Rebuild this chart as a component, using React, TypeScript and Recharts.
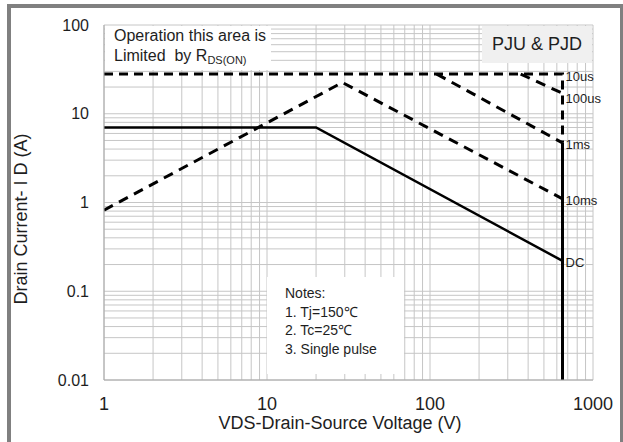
import React from "react";
import {
  CartesianGrid,
  Line,
  LineChart,
  ReferenceDot,
  XAxis,
  YAxis,
} from "recharts";

// Safe operating area, VDS (V) vs ID (A)
const dcV = [1, 20, 650];
const dcI = [7, 7, 0.22];
const dcVertV = [650, 650];
const dcVertI = [4.7, 0.01];
const ms10V = [1, 29, 650];
const ms10I = [0.82, 22.5, 1.1];
const ms1V = [110, 650];
const ms1I = [28, 4.7];
const us100V = [360, 650];
const us100I = [28, 17];
const us10V = [1, 650, 650];
const us10I = [28, 28, 4.7];

const curveLabels = ["10us", "100us", "1ms", "10ms", "DC"];
const labelI = [28, 17, 4.7, 1.1, 0.22];

const xTicks = [
  1, 2, 3, 4, 5, 6, 7, 8, 9, 10, 20, 30, 40, 50, 60, 70, 80, 90, 100, 200, 300,
  400, 500, 600, 700, 800, 900, 1000,
];
const yTicks = [
  0.01, 0.02, 0.03, 0.04, 0.05, 0.06, 0.07, 0.08, 0.09, 0.1, 0.2, 0.3, 0.4, 0.5,
  0.6, 0.7, 0.8, 0.9, 1, 2, 3, 4, 5, 6, 7, 8, 9, 10, 20, 30, 40, 50, 60, 70, 80,
  90, 100,
];
const xMajor = [1, 10, 100, 1000];
const yMajor = [0.01, 0.1, 1, 10, 100];

const zip = (vs: number[], is: number[]) => vs.map((v, k) => ({ v, i: is[k] }));

const FONT = '"Liberation Sans", Arial, sans-serif';
const INK = "#1e1e1e";

export default function App() {
  return (
    <div
      style={{
        position: "absolute",
        left: 0,
        top: 0,
        width: 623,
        height: 442,
        background: "#fff",
        fontFamily: FONT,
        color: INK,
        overflow: "hidden",
      }}
    >
      <LineChart
        width={623}
        height={442}
        margin={{ top: 25, right: 30, bottom: 22, left: 0 }}
      >
        <CartesianGrid stroke="#c6c6c6" strokeWidth={1} />
        <XAxis
          type="number"
          dataKey="v"
          scale="log"
          domain={[1, 1000]}
          ticks={xTicks}
          allowDataOverflow
          height={40}
          tickSize={0}
          tickMargin={17}
          tickLine={false}
          axisLine={{ stroke: "#a8a8a8" }}
          interval={0}
          tick={{ fontSize: 18, fill: INK, fontFamily: FONT }}
          tickFormatter={(t: number) => (xMajor.includes(t) ? String(t) : "")}
        />
        <YAxis
          type="number"
          dataKey="i"
          scale="log"
          domain={[0.01, 100]}
          ticks={yTicks}
          allowDataOverflow
          width={104}
          tickSize={0}
          tickMargin={15}
          tickLine={false}
          axisLine={{ stroke: "#a8a8a8" }}
          interval={0}
          tick={{ fontSize: 16, fill: INK, fontFamily: FONT }}
          tickFormatter={(t: number) => (yMajor.includes(t) ? String(t) : "")}
        />
        <Line data={zip(us10V, us10I)} dataKey="i" stroke="#000" strokeWidth={3}
          strokeDasharray="9 6" dot={false} isAnimationActive={false} />
        <Line data={zip(us100V, us100I)} dataKey="i" stroke="#000" strokeWidth={3}
          strokeDasharray="10 7" dot={false} isAnimationActive={false} />
        <Line data={zip(ms1V, ms1I)} dataKey="i" stroke="#000" strokeWidth={3}
          strokeDasharray="10 7" dot={false} isAnimationActive={false} />
        <Line data={zip(ms10V, ms10I)} dataKey="i" stroke="#000" strokeWidth={3}
          strokeDasharray="10 7" dot={false} isAnimationActive={false} />
        <Line data={zip(dcV, dcI)} dataKey="i" stroke="#000" strokeWidth={2.5}
          dot={false} isAnimationActive={false} />
        <Line data={zip(dcVertV, dcVertI)} dataKey="i" stroke="#000" strokeWidth={3}
          dot={false} isAnimationActive={false} />
        {curveLabels.map((name, k) => (
          <ReferenceDot
            key={name}
            x={650}
            y={labelI[k]}
            r={0}
            stroke="none"
            label={{
              value: name,
              position: "right",
              offset: 3,
              dy: k === 1 ? 5 : 2,
              fontSize: 13,
              fill: INK,
              fontFamily: FONT,
            }}
          />
        ))}
      </LineChart>

      {/* outer frame */}
      <div
        style={{
          position: "absolute",
          left: 7,
          top: 4,
          right: 0,
          bottom: -10,
          borderLeft: "4px solid #808080",
          borderTop: "4px solid #808080",
          borderRight: "3px solid #808080",
        }}
      />

      {/* R_DS(on) note */}
      <div
        style={{
          position: "absolute",
          left: 105,
          top: 26,
          width: 166,
          height: 44,
          background: "#fff",
          fontSize: 16,
          lineHeight: "20px",
          paddingLeft: 9,
          boxSizing: "border-box",
        }}
      >
        <div>Operation this area is</div>
        <div>
          Limited&nbsp; by R<sub style={{ fontSize: 11, verticalAlign: "-3px" }}>DS(ON)</sub>
        </div>
      </div>

      {/* part number */}
      <div
        style={{
          position: "absolute",
          left: 482,
          top: 26,
          width: 110,
          height: 37,
          background: "#f0f0f0",
          fontSize: 18,
          lineHeight: "37px",
          textAlign: "center",
        }}
      >
        PJU &amp; PJD
      </div>

      {/* notes */}
      <div
        style={{
          position: "absolute",
          left: 267,
          top: 277,
          width: 137,
          height: 97,
          background: "#fff",
          fontSize: 14,
          lineHeight: "18.5px",
          paddingLeft: 18,
          paddingTop: 7,
          boxSizing: "border-box",
        }}
      >
        <div>Notes:</div>
        <div>1. Tj=150℃</div>
        <div>2. Tc=25℃</div>
        <div>3. Single pulse</div>
      </div>

      {/* axis titles */}
      <div
        style={{
          position: "absolute",
          left: 21 - 110,
          top: 219 - 11,
          width: 220,
          height: 22,
          lineHeight: "22px",
          fontSize: 18,
          textAlign: "center",
          transform: "rotate(-90deg)",
        }}
      >
        Drain Current- I D (A)
      </div>
      <div
        style={{
          position: "absolute",
          left: 340 - 160,
          top: 412,
          width: 320,
          height: 22,
          lineHeight: "22px",
          fontSize: 18,
          textAlign: "center",
        }}
      >
        VDS-Drain-Source Voltage (V)
      </div>
    </div>
  );
}
